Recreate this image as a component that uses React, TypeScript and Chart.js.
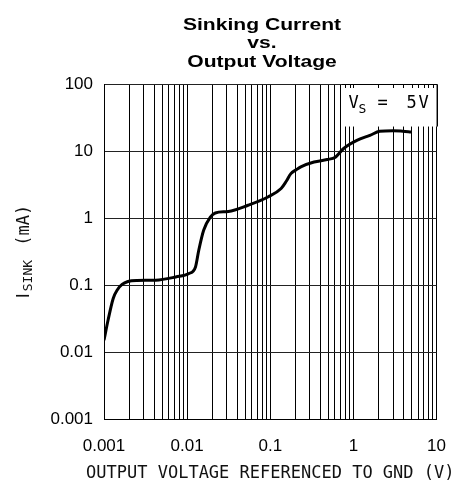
import React, { useEffect, useRef } from 'react';
import { Chart, registerables } from 'chart.js';

Chart.register(...registerables);

// Curve (V, mA)
const outputVoltage = [
  0.001, 0.00112, 0.00129, 0.00145, 0.00165, 0.00194, 0.0025, 0.0042, 0.0073, 0.0105, 0.0126,
  0.0138, 0.0158, 0.019, 0.0218, 0.0313, 0.054, 0.0936, 0.135, 0.155, 0.177,
  0.203, 0.233, 0.336, 0.483, 0.607, 0.763, 1.1, 1.58, 2.07, 2.99, 3.93, 4.94,
];
const sinkCurrent = [
  0.015, 0.03, 0.063, 0.085, 0.102, 0.113, 0.117, 0.118, 0.132, 0.148, 0.186,
  0.33, 0.655, 1.03, 1.19, 1.25, 1.55, 2.06, 2.75, 3.5, 4.6,
  5.2, 5.8, 6.85, 7.45, 8.1, 10.9, 14.4, 17.1, 19.7, 20.1, 19.7, 19.2,
];

const xDecades = [0.001, 0.01, 0.1, 1, 10];
const xTickLabels = ['0.001', '0.01', '0.1', '1', '10'];
const yDecades = [0.001, 0.01, 0.1, 1, 10, 100];
const yTickLabels = ['0.001', '0.01', '0.1', '1', '10', '100'];
const minorSteps = [1, 2, 3, 4, 5, 6, 7, 8, 9];

const titleLines = ['Sinking Current', 'vs.', 'Output Voltage'];
const xAxisTitle = 'OUTPUT VOLTAGE REFERENCED TO GND (V)';
const yAxisTitleMain = 'I';
const yAxisTitleSub = 'SINK';
const yAxisTitleUnit = ' (mA)';
const legendMain = 'V';
const legendSub = 'S';
const legendEq = '=';
const legendValue = ['5', 'V'];

const xGridValues: number[] = [];
xDecades.forEach((d, i) => {
  if (i < xDecades.length - 1) minorSteps.forEach((m) => xGridValues.push(d * m));
  else xGridValues.push(d);
});

function labelFor(value: number, decades: number[], labels: string[]) {
  const idx = decades.findIndex((d) => Math.abs(Math.log10(value / d)) < 1e-6);
  return idx >= 0 ? labels[idx] : '';
}

const MONO = '"DejaVu Sans Mono", monospace';
const SANS = '"Liberation Sans", Arial, sans-serif';

const decorPlugin = {
  id: 'decor',
  beforeDatasetsDraw(chart: any) {
    const { ctx, chartArea: ca, scales } = chart;
    const xs = scales.x;
    const ys = scales.y;
    const boxLeft = xs.getPixelForValue(0.75);
    const boxBottom = ys.getPixelForValue(24);
    ctx.save();
    ctx.fillStyle = '#fff';
    ctx.fillRect(boxLeft, ca.top + 1, ca.right - boxLeft, boxBottom - ca.top);
    ctx.strokeStyle = '#000';
    ctx.lineWidth = 1;
    ctx.beginPath();
    xGridValues.forEach((v) => {
      const px = Math.round(xs.getPixelForValue(v)) + 0.5;
      if (px > boxLeft && px < ca.right - 1) {
        ctx.moveTo(px, ca.top);
        ctx.lineTo(px, ca.top + 4);
      }
    });
    const top = Math.round(ca.top) + 0.5;
    const right = Math.round(ca.right) + 0.5;
    ctx.moveTo(boxLeft - 1, top);
    ctx.lineTo(right, top);
    ctx.moveTo(right, top);
    ctx.lineTo(right, boxBottom + 1);
    ctx.stroke();

    ctx.fillStyle = '#000';
    ctx.textBaseline = 'alphabetic';
    ctx.textAlign = 'left';
    ctx.font = `17px ${MONO}`;
    ctx.fillText(legendMain, ca.right - 88, ca.top + 24);
    ctx.font = `13px ${MONO}`;
    ctx.fillText(legendSub, ca.right - 78, ca.top + 29);
    ctx.font = `17px ${MONO}`;
    ctx.fillText(legendEq, ca.right - 59, ca.top + 24);
    ctx.fillText(legendValue[0], ca.right - 30, ca.top + 24);
    ctx.fillText(legendValue[1], ca.right - 18, ca.top + 24);
    ctx.restore();
  },
  afterDraw(chart: any) {
    const { ctx, chartArea: ca } = chart;
    ctx.save();
    ctx.fillStyle = '#000';
    // Title
    ctx.font = `bold 17px ${SANS}`;
    ctx.textAlign = 'center';
    ctx.textBaseline = 'alphabetic';
    const baselines = [30, 48, 67];
    titleLines.forEach((line, i) => {
      ctx.save();
      ctx.translate(262, baselines[i]);
      ctx.scale(1.24, 1);
      ctx.fillText(line, 0, 0);
      ctx.restore();
    });
    // X axis title
    ctx.fillStyle = '#111';
    ctx.font = `17px ${MONO}`;
    ctx.fillText(xAxisTitle, (ca.left + ca.right) / 2, 478);
    // Y axis title
    ctx.save();
    ctx.translate(29, (ca.top + ca.bottom) / 2);
    ctx.rotate(-Math.PI / 2);
    ctx.textAlign = 'left';
    ctx.font = `18px ${SANS}`;
    const w1 = ctx.measureText(yAxisTitleMain).width;
    ctx.font = `17px ${MONO}`;
    const w3 = ctx.measureText(yAxisTitleUnit).width;
    ctx.font = `13px ${MONO}`;
    const w2 = ctx.measureText(yAxisTitleSub).width;
    let x = -(w1 + w2 + w3 + 6) / 2;
    ctx.font = `18px ${SANS}`;
    ctx.fillText(yAxisTitleMain, x, 0);
    x += w1 + 2;
    ctx.font = `13px ${MONO}`;
    ctx.fillText(yAxisTitleSub, x, 3);
    x += w2 + 4;
    ctx.font = `17px ${MONO}`;
    ctx.fillText(yAxisTitleUnit, x, 0);
    ctx.restore();
    ctx.restore();
  },
};

export default function App() {
  const canvasRef = useRef<HTMLCanvasElement | null>(null);

  useEffect(() => {
    const canvas = canvasRef.current;
    if (!canvas) return;
    const chart = new Chart(canvas, {
      type: 'line',
      data: {
        datasets: [
          {
            data: outputVoltage.map((v, i) => ({ x: v, y: sinkCurrent[i] })),
            borderColor: '#000',
            borderWidth: 3,
            pointRadius: 0,
            cubicInterpolationMode: 'monotone',
            fill: false,
          },
        ],
      },
      options: {
        responsive: false,
        animation: false,
        devicePixelRatio: 1,
        layout: { padding: { top: 84, right: 22, left: 0, bottom: 0 } },
        plugins: {
          legend: { display: false },
          tooltip: { enabled: false },
          title: { display: false },
        },
        scales: {
          x: {
            type: 'logarithmic',
            min: 0.001,
            max: 10,
            afterBuildTicks: (s: any) => {
              s.ticks = xGridValues.map((v) => ({ value: v }));
            },
            afterFit: (s: any) => {
              s.height = 81;
            },
            grid: { color: '#000', lineWidth: 1, drawTicks: false },
            border: { display: true, color: '#000', width: 1 },
            ticks: {
              autoSkip: false,
              maxRotation: 0,
              minRotation: 0,
              padding: 17,
              color: '#000',
              font: { family: SANS, size: 17 },
              callback: (v: any) => labelFor(Number(v), xDecades, xTickLabels),
            },
          },
          y: {
            type: 'logarithmic',
            min: 0.001,
            max: 100,
            afterBuildTicks: (s: any) => {
              s.ticks = yDecades.map((v) => ({ value: v }));
            },
            afterFit: (s: any) => {
              s.width = 104;
            },
            grid: { color: '#222', lineWidth: 1, drawTicks: false },
            border: { display: true, color: '#000', width: 1 },
            ticks: {
              autoSkip: false,
              padding: 11,
              color: '#000',
              font: { family: SANS, size: 17 },
              callback: (v: any) => labelFor(Number(v), yDecades, yTickLabels),
            },
          },
        },
      } as any,
      plugins: [decorPlugin],
    });
    return () => chart.destroy();
  }, []);

  return (
    <div style={{ position: 'absolute', left: 0, top: 0, width: 463, height: 500, background: '#fff' }}>
      <canvas ref={canvasRef} width={463} height={500} />
    </div>
  );
}
